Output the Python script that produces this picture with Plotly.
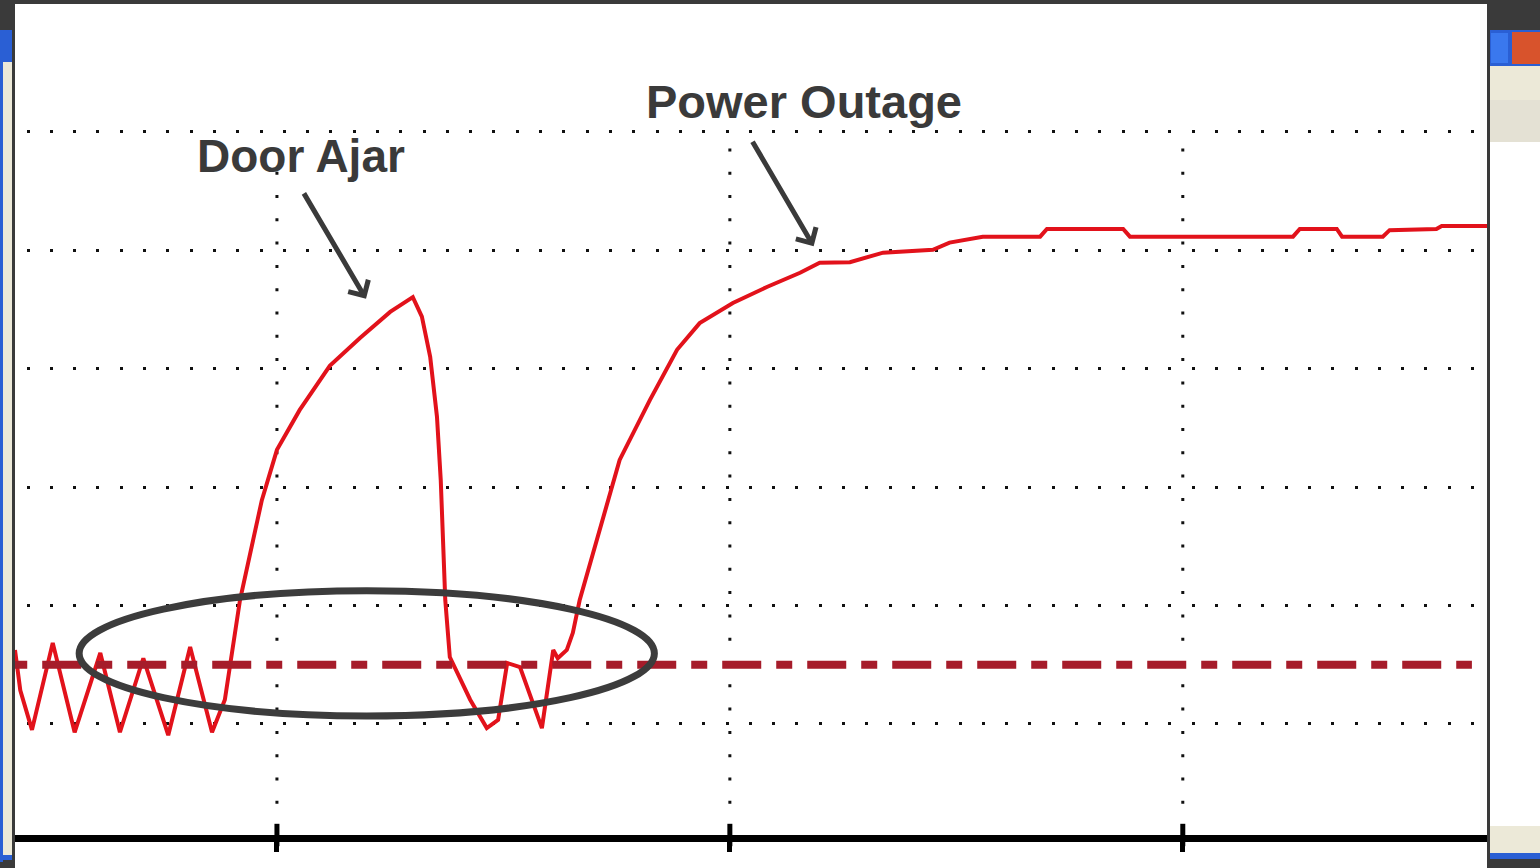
import plotly.graph_objects as go

# ---- data ----
hours = [2.53, 2.60, 2.755, 3.03, 3.32, 3.66, 3.92, 4.23, 4.56, 4.85, 5.14, 5.31, 5.51, 5.80,
         6.00, 6.30, 6.70, 7.10, 7.50, 7.80, 7.92, 8.03, 8.12, 8.17, 8.23, 8.29, 8.56, 8.78,
         8.93, 9.05, 9.22, 9.51, 9.66, 9.72, 9.84, 9.92, 10.01, 10.28, 10.54, 10.94, 11.30,
         11.60, 12.04, 12.49, 12.93, 13.19, 13.59, 14.03, 14.69, 14.91, 15.35, 16.11, 16.20,
         17.21, 17.30, 19.46, 19.55, 20.04, 20.11, 20.65, 20.74, 21.36, 21.43, 22.03]
temp_f = [35.25, 34.57, 33.90, 35.37, 33.86, 35.20, 33.86, 35.11, 33.81, 35.30, 33.86, 34.41,
          36.09, 37.78, 38.63, 39.30, 40.05, 40.52, 40.96, 41.21, 40.88, 40.20, 39.19, 38.12,
          36.09, 35.13, 34.41, 33.93, 34.07, 35.03, 34.96, 33.93, 35.25, 35.11, 35.25, 35.54,
          36.09, 37.28, 38.46, 39.47, 40.32, 40.77, 41.11, 41.38, 41.62, 41.79, 41.80, 41.96,
          42.01, 42.13, 42.23, 42.23, 42.36, 42.36, 42.23, 42.23, 42.36, 42.36, 42.23, 42.23,
          42.34, 42.36, 42.41, 42.41]

setpoint_hours = [2.48, 21.83]
setpoint_temp = [35.0, 35.0]

x_ticks = [6, 12, 18]
y_ticks = [34, 36, 38, 40, 42, 44]
x_range = [2.53, 22.03]
y_range = [32.125, 46.16]

# ---- figure ----
fig = go.Figure()
fig.add_trace(go.Scatter(x=hours, y=temp_f, mode="lines",
                         line=dict(color="#e2121b", width=4), hoverinfo="skip"))
fig.add_trace(go.Scatter(x=setpoint_hours, y=setpoint_temp, mode="lines",
                         line=dict(color="#a61c2a", width=8, dash="16px,15px,39px,15px"),
                         hoverinfo="skip"))
# tick marks crossing the time axis
fig.add_trace(go.Scatter(x=x_ticks, y=[y_range[0]] * len(x_ticks), mode="markers",
                         marker=dict(symbol="line-ns", size=16,
                                     line=dict(color="black", width=5)),
                         cliponaxis=False, hoverinfo="skip"))

# window chrome (pixel-based, paper coords)
W, H = 1540, 868
L, R, T, B = 15, 53, 4, 33
pw, ph = W - L - R, H - T - B


def px(xp):
    return (xp - L) / pw


def py(yp):
    return (H - B - yp) / ph


def rect(x0, y0, x1, y1, color, layer="below"):
    fig.add_shape(type="rect", xref="paper", yref="paper",
                  x0=px(x0), x1=px(x1), y0=py(y1), y1=py(y0),
                  fillcolor=color, line_width=0, layer=layer)


rect(15, 4, 1487, 868, "white")
# left strip
rect(0, 30, 3, 862, "#2a5fd4")
rect(3, 30, 12, 62, "#2a5fd4")
rect(3, 62, 12, 855, "#ece9d8")
rect(3, 855, 12, 860, "#2a5fd4")
# right strip
rect(1490, 30, 1540, 66, "#2a5fd4")
rect(1491, 33, 1508, 63, "#3a78ee")
rect(1512, 32, 1540, 64, "#d8532c")
rect(1490, 66, 1540, 100, "#ece9d8")
rect(1490, 100, 1540, 142, "#e4e1d4")
rect(1490, 142, 1540, 826, "white")
rect(1490, 826, 1540, 853, "#ece9d8")
rect(1490, 853, 1540, 859, "#2a5fd4")

# vertical dotted grid lines (from the top grid line down to the axis)
for xv in x_ticks:
    fig.add_shape(type="line", xref="x", yref="y", x0=xv, x1=xv,
                  y0=y_ticks[-1], y1=y_range[0],
                  line=dict(color="#111111", width=3, dash="0px,16.5px,3px,3.8px"),
                  layer="below")

# ellipse highlight
fig.add_shape(type="circle", xref="x", yref="y", x0=3.38, x1=11.0, y0=34.135, y1=36.25,
              line=dict(color="#3c3c3c", width=7), layer="above")

# annotations
fig.add_annotation(x=6.32, y=43.59, xref="x", yref="y", text="Door Ajar", showarrow=False,
                   font=dict(family="Liberation Sans, Arial", size=46, color="#3a3a3a", weight="bold"))
fig.add_annotation(x=12.98, y=44.51, xref="x", yref="y", text="Power Outage", showarrow=False,
                   font=dict(family="Liberation Sans, Arial", size=47, color="#3a3a3a", weight="bold"))
fig.add_annotation(x=7.18, y=41.18, xref="x", yref="y", text="", showarrow=True,
                   ax=-63, ay=-107, arrowhead=4, arrowsize=0.9, arrowwidth=5, arrowcolor="#3a3a3a")
fig.add_annotation(x=13.11, y=42.07, xref="x", yref="y", text="", showarrow=True,
                   ax=-62, ay=-106, arrowhead=4, arrowsize=0.9, arrowwidth=5, arrowcolor="#3a3a3a")

fig.update_layout(
    width=W, height=H,
    margin=dict(l=L, r=R, t=T, b=B, pad=0),
    paper_bgcolor="#3a3a3a",
    plot_bgcolor="white",
    showlegend=False,
    xaxis=dict(range=x_range, tickvals=x_ticks, showticklabels=False,
               showgrid=False,
               zeroline=False, showline=True, linecolor="black", linewidth=7,
               ticks="outside", ticklen=10, tickwidth=5, tickcolor="black"),
    yaxis=dict(range=y_range, tickvals=y_ticks, showticklabels=False,
               showgrid=True, gridcolor="#111111", gridwidth=3, griddash="0px,11.5px,3px,8.8px",
               zeroline=False, showline=False, ticks=""),
)

fig.write_html("out.html", config={"displayModeBar": False},
               post_script="document.body.style.margin='0';document.body.style.overflow='hidden';")
